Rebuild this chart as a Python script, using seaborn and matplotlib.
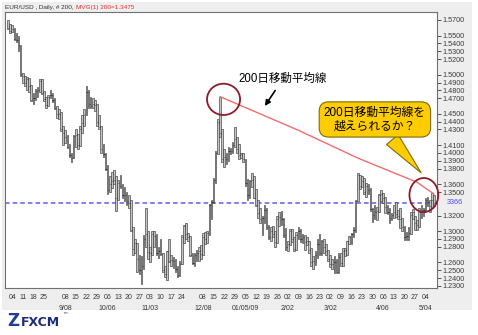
import numpy as np
import pandas as pd
import matplotlib
matplotlib.use("Agg")
import matplotlib.pyplot as plt
import seaborn as sns
from matplotlib.patches import Ellipse, Rectangle

# ---------------- data ----------------
start_date = "2008-07-31"
end_date = "2009-05-08"
first_open = 1.5660

highs = [
    1.5700, 1.5650, 1.5640, 1.5600, 1.5530, 1.5500, 1.5380, 1.5020, 1.4990, 1.4970,
    1.4960, 1.4870, 1.4760, 1.4820, 1.4840, 1.4940, 1.4950, 1.4790, 1.4720, 1.4740,
    1.4800, 1.4770, 1.4700, 1.4600, 1.4560, 1.4520, 1.4340, 1.4290, 1.4230, 1.4120,
    1.4000, 1.4230, 1.4300, 1.4240, 1.4350, 1.4480, 1.4560, 1.4860, 1.4810, 1.4720,
    1.4700, 1.4680, 1.4620, 1.4480, 1.4340, 1.4120, 1.4000, 1.3840, 1.3700, 1.3760,
    1.3780, 1.3700, 1.3650, 1.3720, 1.3600, 1.3560, 1.3500, 1.3460, 1.3400, 1.3050,
    1.2900, 1.2850, 1.2700, 1.2680, 1.2950, 1.3300, 1.3000, 1.2800, 1.3000, 1.3000,
    1.2960, 1.2800, 1.2900, 1.2720, 1.2560, 1.2750, 1.2900, 1.2700, 1.2670, 1.2640,
    1.2560, 1.2620, 1.2950, 1.3080, 1.3100, 1.2980, 1.2940, 1.2720, 1.2720, 1.2760,
    1.2800, 1.2820, 1.2980, 1.2990, 1.3000, 1.3350, 1.3400, 1.3680, 1.4020, 1.4440,
    1.4720, 1.4300, 1.4050, 1.4000, 1.4080, 1.4060, 1.4140, 1.4330, 1.4200, 1.4120,
    1.4000, 1.4000, 1.3920, 1.3670, 1.3650, 1.3740, 1.3700, 1.3540, 1.3400, 1.3300,
    1.3200, 1.3340, 1.3290, 1.3080, 1.3050, 1.3060, 1.3000, 1.3200, 1.3240, 1.3260,
    1.3170, 1.3040, 1.2880, 1.3030, 1.3030, 1.2930, 1.2990, 1.3050, 1.3030, 1.2960,
    1.2950, 1.2920, 1.2880, 1.2780, 1.2680, 1.2740, 1.2900, 1.2960, 1.2890, 1.2900,
    1.2830, 1.2760, 1.2700, 1.2640, 1.2680, 1.2650, 1.2720, 1.2720, 1.2780, 1.2790,
    1.2880, 1.2940, 1.2980, 1.3050, 1.3400, 1.3740, 1.3720, 1.3700, 1.3680, 1.3620,
    1.3600, 1.3550, 1.3290, 1.3330, 1.3310, 1.3480, 1.3530, 1.3490, 1.3440, 1.3330,
    1.3290, 1.3230, 1.3330, 1.3370, 1.3270, 1.3290, 1.3170, 1.3070, 1.2990, 1.3050,
    1.3240, 1.3280, 1.3200, 1.3140, 1.3300, 1.3340, 1.3290, 1.3420, 1.3440, 1.3400,
    1.3490, 1.3460,
]
lows = [
    1.5580, 1.5530, 1.5540, 1.5440, 1.5420, 1.5300, 1.4990, 1.4900, 1.4860, 1.4800,
    1.4780, 1.4660, 1.4620, 1.4680, 1.4720, 1.4780, 1.4750, 1.4660, 1.4580, 1.4600,
    1.4700, 1.4650, 1.4560, 1.4450, 1.4430, 1.4280, 1.4100, 1.4130, 1.4060, 1.3950,
    1.3880, 1.3940, 1.4080, 1.4050, 1.4090, 1.4260, 1.4340, 1.4480, 1.4580, 1.4580,
    1.4580, 1.4530, 1.4350, 1.4300, 1.4000, 1.3950, 1.3780, 1.3480, 1.3500, 1.3550,
    1.3600, 1.3260, 1.3400, 1.3550, 1.3420, 1.3380, 1.3340, 1.3300, 1.3000, 1.2700,
    1.2720, 1.2480, 1.2450, 1.2330, 1.2520, 1.2800, 1.2650, 1.2600, 1.2690, 1.2800,
    1.2700, 1.2660, 1.2700, 1.2480, 1.2420, 1.2380, 1.2600, 1.2550, 1.2530, 1.2480,
    1.2420, 1.2430, 1.2580, 1.2850, 1.2900, 1.2880, 1.2680, 1.2580, 1.2560, 1.2620,
    1.2620, 1.2640, 1.2700, 1.2840, 1.2850, 1.2950, 1.3150, 1.3360, 1.3620, 1.3980,
    1.4200, 1.3880, 1.3820, 1.3860, 1.3900, 1.3990, 1.4000, 1.4070, 1.4000, 1.3920,
    1.3940, 1.3880, 1.3580, 1.3400, 1.3420, 1.3560, 1.3420, 1.3320, 1.3170, 1.3100,
    1.2950, 1.3100, 1.3030, 1.2900, 1.2880, 1.2920, 1.2800, 1.2850, 1.3070, 1.3080,
    1.2930, 1.2760, 1.2740, 1.2820, 1.2860, 1.2740, 1.2760, 1.2900, 1.2860, 1.2850,
    1.2760, 1.2820, 1.2720, 1.2560, 1.2510, 1.2570, 1.2660, 1.2700, 1.2690, 1.2720,
    1.2690, 1.2620, 1.2540, 1.2520, 1.2460, 1.2470, 1.2460, 1.2560, 1.2550, 1.2680,
    1.2700, 1.2840, 1.2830, 1.2930, 1.2990, 1.3380, 1.3540, 1.3560, 1.3470, 1.3440,
    1.3480, 1.3260, 1.3120, 1.3150, 1.3140, 1.3250, 1.3380, 1.3360, 1.3230, 1.3220,
    1.3110, 1.3140, 1.3170, 1.3180, 1.3150, 1.3040, 1.3000, 1.2890, 1.2890, 1.2890,
    1.2960, 1.3150, 1.3020, 1.3010, 1.3050, 1.3170, 1.3200, 1.3240, 1.3320, 1.3250,
    1.3290, 1.3320,
]
closes = [
    1.5600, 1.5560, 1.5590, 1.5460, 1.5450, 1.5370, 1.5010, 1.4980, 1.4890, 1.4950,
    1.4860, 1.4680, 1.4700, 1.4790, 1.4810, 1.4920, 1.4770, 1.4690, 1.4610, 1.4710,
    1.4740, 1.4680, 1.4580, 1.4500, 1.4500, 1.4310, 1.4260, 1.4200, 1.4080, 1.3970,
    1.3940, 1.4220, 1.4230, 1.4100, 1.4300, 1.4380, 1.4490, 1.4780, 1.4620, 1.4600,
    1.4630, 1.4610, 1.4400, 1.4330, 1.4050, 1.3980, 1.3800, 1.3530, 1.3600, 1.3640,
    1.3660, 1.3420, 1.3610, 1.3580, 1.3460, 1.3460, 1.3390, 1.3360, 1.3020, 1.2770,
    1.2850, 1.2650, 1.2500, 1.2550, 1.2900, 1.2960, 1.2730, 1.2720, 1.2960, 1.2940,
    1.2720, 1.2750, 1.2710, 1.2500, 1.2450, 1.2740, 1.2620, 1.2630, 1.2620, 1.2520,
    1.2440, 1.2580, 1.2920, 1.3070, 1.2960, 1.2930, 1.2700, 1.2590, 1.2690, 1.2720,
    1.2750, 1.2710, 1.2930, 1.2900, 1.2970, 1.3340, 1.3370, 1.3650, 1.4000, 1.4400,
    1.4250, 1.3920, 1.3950, 1.3920, 1.4030, 1.4020, 1.4100, 1.4180, 1.4050, 1.3970,
    1.3980, 1.3920, 1.3620, 1.3460, 1.3640, 1.3650, 1.3430, 1.3330, 1.3230, 1.3150,
    1.3170, 1.3270, 1.3050, 1.2930, 1.3000, 1.2960, 1.2860, 1.3160, 1.3180, 1.3150,
    1.2950, 1.2800, 1.2840, 1.3000, 1.2900, 1.2770, 1.2950, 1.3000, 1.2900, 1.2930,
    1.2860, 1.2870, 1.2760, 1.2600, 1.2620, 1.2700, 1.2830, 1.2720, 1.2870, 1.2800,
    1.2740, 1.2650, 1.2580, 1.2580, 1.2610, 1.2480, 1.2670, 1.2590, 1.2750, 1.2760,
    1.2870, 1.2920, 1.2960, 1.3020, 1.3380, 1.3720, 1.3580, 1.3640, 1.3500, 1.3580,
    1.3530, 1.3280, 1.3210, 1.3250, 1.3260, 1.3460, 1.3480, 1.3420, 1.3310, 1.3250,
    1.3170, 1.3210, 1.3240, 1.3220, 1.3200, 1.3160, 1.3050, 1.2920, 1.2940, 1.2970,
    1.3210, 1.3250, 1.3100, 1.3080, 1.3240, 1.3240, 1.3270, 1.3400, 1.3370, 1.3320,
    1.3400, 1.3366,
]

# 200-day moving average (MVG 200) read at a few bars
ma_idx = [100, 137, 165, 193, 201]
ma_val = [1.4720, 1.4290, 1.3935, 1.3625, 1.3475]

ref_level = 1.3366
ref_label = "3366"

ytick_vals = [1.57, 1.55, 1.54, 1.53, 1.52, 1.50, 1.49, 1.48, 1.47, 1.45, 1.44,
              1.43, 1.41, 1.40, 1.39, 1.38, 1.36, 1.35, 1.32, 1.30, 1.29, 1.28,
              1.26, 1.25, 1.24, 1.23]

tick_dates = ["2008-08-04", "2008-08-11", "2008-08-18", "2008-08-25",
              "2008-09-08", "2008-09-15", "2008-09-22", "2008-09-29",
              "2008-10-06", "2008-10-13", "2008-10-20", "2008-10-27",
              "2008-11-03", "2008-11-10", "2008-11-17", "2008-11-24",
              "2008-12-08", "2008-12-15", "2008-12-22", "2008-12-29",
              "2009-01-05", "2009-01-12", "2009-01-19", "2009-01-26",
              "2009-02-02", "2009-02-09", "2009-02-16", "2009-02-23",
              "2009-03-02", "2009-03-09", "2009-03-16", "2009-03-23", "2009-03-30",
              "2009-04-06", "2009-04-13", "2009-04-20", "2009-04-27",
              "2009-05-04"]
month_dates = ["2008-09-08", "2008-10-06", "2008-11-03", "2008-12-08", "2009-01-05",
               "2009-02-02", "2009-03-02", "2009-04-06", "2009-05-04"]
month_labels = ["9/08", "10/06", "11/03", "12/08", "01/05/09", "2/02", "3/02",
                "4/06", "5/04"]

title_main = "EUR/USD , Daily, # 200,"
title_ma = "MVG(1) 200=1.3475"
arrow_text = "200日移動平均線"
bubble_text = "200日移動平均線を\n越えられるか？"

# ---------------- build ----------------
dates = pd.bdate_range(start_date, end_date)
opens = [first_open] + closes[:-1]
df = pd.DataFrame({"date": dates, "open": opens, "high": highs,
                   "low": lows, "close": closes})
df["i"] = np.arange(len(df))

sns.set_theme(style="white")
plt.rcParams["font.family"] = ["Liberation Sans", "Noto Sans CJK JP", "DejaVu Sans"]

W, H = 478, 335
fig = plt.figure(figsize=(W / 100, H / 100), dpi=100)
fig.patch.set_facecolor("white")
fig.patches.append(Rectangle((2 / W, 1 - 310 / H), 470 / W, 308 / H,
                             transform=fig.transFigure, fc="#eeeeee", ec="none",
                             zorder=-10))
ax = fig.add_axes([5 / W, 1 - 288 / H, 432 / W, 276 / H])
ax.set_facecolor("white")

# price bars
ax.bar(df["i"], df["high"] - df["low"], bottom=df["low"], width=0.75,
       color="#c4c4c4", edgecolor="#3a3a3a", linewidth=0.45, zorder=3)
ax.hlines(df["close"], df["i"], df["i"] + 0.55, color="#222222", lw=0.5, zorder=4)

# reference level
ax.axhline(ref_level, color="#5c5cf2", lw=1.1, ls=(0, (3, 2)), zorder=2)

# moving average
sns.lineplot(x=ma_idx, y=ma_val, ax=ax, color="#ec6e6e", lw=1.0, zorder=5)

ax.set_xlim(-1.4, 202.4)
ax.set_ylim(1.2273, 1.5802)

# y axis on right
ax.yaxis.tick_right()
ax.set_yticks(ytick_vals)
ax.set_yticklabels([f"{v:.4f}" for v in ytick_vals])
ax.tick_params(axis="y", length=3, width=0.6, pad=1, labelsize=5.2,
               colors="#3a3a3a", left=False, right=True)
ax.text(1.022, ref_level, ref_label, transform=ax.get_yaxis_transform(),
        color="#4b4bff", fontsize=5.2, va="center", ha="left")

# x axis: day numbers as tick labels, month labels on a second row
tick_pos = dates.get_indexer(pd.to_datetime(tick_dates))
ax.set_xticks(tick_pos)
ax.set_xticklabels([pd.Timestamp(d).strftime("%d") for d in tick_dates])
ax.tick_params(axis="x", length=0, pad=4, labelsize=5.0, colors="#3a3a3a")
month_pos = dates.get_indexer(pd.to_datetime(month_dates))
xt = ax.get_xaxis_transform()
for p, lab in zip(month_pos, month_labels):
    ax.text(p, -0.074, lab, transform=xt, ha="center", va="center",
            fontsize=5.0, color="#3a3a3a")

for s in ax.spines.values():
    s.set_color("#707070")
    s.set_linewidth(0.8)
ax.set_xlabel("")
ax.set_ylabel("")

# circles: around the peak where the MA line starts, and at the MA end
peak_i = ma_idx[0]
ax.add_patch(Ellipse((peak_i + 1.7, highs[peak_i] - 0.0035), 15.6, 0.040,
                     fill=False, ec="#8b1c2c", lw=1.3, zorder=6, clip_on=False))
ax.add_patch(Ellipse((ma_idx[-1] - 4.8, ma_val[-1] - 0.0013), 13.6, 0.0435,
                     fill=False, ec="#8b1c2c", lw=1.3, zorder=6, clip_on=False))

# arrow annotation
ax.annotate(arrow_text, xy=(121.2, 1.4600), xytext=(129.7, 1.4946),
            ha="center", va="center", fontsize=8.3, color="black",
            arrowprops=dict(arrowstyle="-|>", color="black", lw=1.2,
                            shrinkA=2, shrinkB=0, mutation_scale=8),
            zorder=7)

# callout bubble
ax.annotate(bubble_text, xy=(195.8, 1.3718), xytext=(173.1, 1.4428),
            ha="center", va="center", fontsize=8.5, color="black",
            multialignment="center",
            bbox=dict(boxstyle="round,pad=0.4,rounding_size=0.8",
                      fc="#ffcc00", ec="#7a6a10", lw=0.8),
            arrowprops=dict(arrowstyle="wedge,tail_width=1.3,shrink_factor=0.5",
                            fc="#ffcc00", ec="#7a6a10", lw=0.8),
            zorder=8)

# title (red part placed right after the dark part)
t1 = fig.text(5 / W, 1 - 8 / H, title_main, fontsize=4.6, color="#333333",
              va="center", ha="left")
fig.canvas.draw()
bb = t1.get_window_extent(renderer=fig.canvas.get_renderer())
fig.text((bb.x1 + 2) / W, 1 - 8 / H, title_ma, fontsize=4.6, color="#e03030",
         va="center", ha="left")

# logo
fig.text(7 / W, 1 - 321 / H, "Z", fontsize=12, fontweight="bold",
         color="#1c3f9c", va="center", ha="left", family="DejaVu Sans")
fig.text(21 / W, 1 - 322 / H, "FXCM", fontsize=9, fontweight="bold",
         color="#1b2f7a", va="center", ha="left", family="DejaVu Sans")
fig.text(62 / W, 1 - 315 / H, "™", fontsize=4, color="#1b2f7a",
         va="center", ha="left", family="DejaVu Sans")

fig.savefig("out.png", dpi=100)
